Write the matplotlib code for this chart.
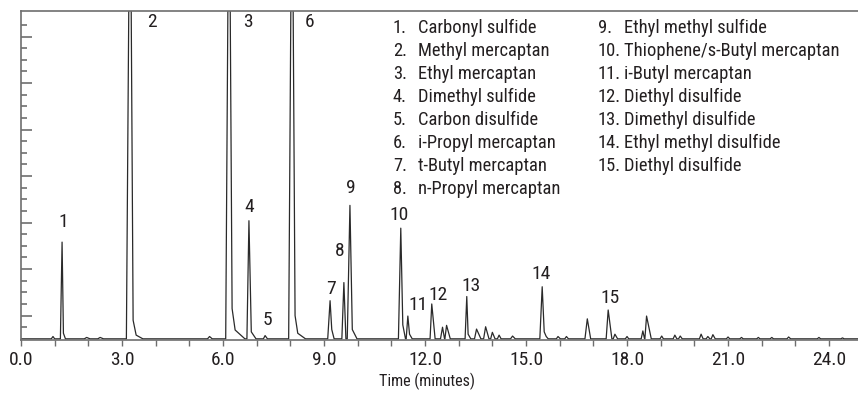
import numpy as np
import matplotlib
matplotlib.use("Agg")
import matplotlib.pyplot as plt
from matplotlib.ticker import MultipleLocator, FormatStrFormatter

# peaks (time in min, height in arbitrary units)
peak_rt = [0.95, 1.22, 1.95, 2.35, 3.24, 5.60, 6.18, 6.77, 7.25, 8.05,
           9.18, 9.59, 9.77, 11.28, 11.49, 12.20, 12.52, 12.64, 13.24, 13.53,
           13.80, 14.00, 14.20, 14.60, 15.48, 15.95, 16.20, 16.82, 17.44, 17.64,
           18.00, 18.47, 18.58, 19.03, 19.42, 19.58, 20.20, 20.40, 20.55, 21.00,
           21.40, 21.90, 22.30, 22.80, 23.70, 24.40]
peak_height = [0.5, 20.8, 0.3, 0.3, 110, 0.5, 110, 25.4, 0.7, 110,
               8.2, 12.1, 28.7, 23.8, 4.9, 7.5, 2.5, 2.9, 9.1, 2.1,
               2.6, 1.4, 0.8, 0.6, 11.2, 0.5, 0.5, 4.3, 6.2, 1.0,
               0.5, 1.7, 4.9, 0.6, 0.8, 0.6, 1.0, 0.5, 0.9, 0.4,
               0.3, 0.3, 0.3, 0.4, 0.3, 0.2]
peak_start = [0.90, 1.17, 1.88, 2.28, 3.13, 5.54, 6.08, 6.71, 7.20, 7.95,
              9.11, 9.53, 9.69, 11.21, 11.44, 12.15, 12.46, 12.59, 13.19, 13.47,
              13.74, 13.95, 14.15, 14.54, 15.41, 15.90, 16.15, 16.75, 17.38, 17.59,
              17.95, 18.42, 18.53, 18.98, 19.37, 19.53, 20.15, 20.35, 20.50, 20.95,
              21.35, 21.85, 22.25, 22.75, 23.65, 24.35]
peak_end = [1.00, 1.32, 2.05, 2.45, 3.62, 5.68, 6.65, 6.98, 7.32, 8.45,
            9.30, 9.65, 9.98, 11.42, 11.62, 12.30, 12.58, 12.75, 13.36, 13.66,
            13.90, 14.08, 14.26, 14.68, 15.66, 16.02, 16.26, 16.92, 17.55, 17.72,
            18.05, 18.52, 18.72, 19.08, 19.48, 19.64, 20.26, 20.46, 20.62, 21.05,
            21.45, 21.95, 22.35, 22.86, 23.75, 24.45]
# tail points after the apex (nan = no tail)
nan = np.nan
peak_tail_t = [nan, 1.26, nan, nan, 3.33, nan, 6.27, 6.84, nan, 8.14,
               9.23, nan, 9.84, 11.34, 11.54, nan, nan, nan, 13.28, nan,
               nan, nan, nan, nan, 15.54, nan, nan, nan, nan, nan,
               nan, nan, nan, nan, nan, nan, nan, nan, nan, nan,
               nan, nan, nan, nan, nan, nan]
peak_tail_h = [0, 1.2, 0, 0, 4.0, 0, 6.5, 1.5, 0, 5.0,
               2.0, 0, 2.0, 3.0, 1.0, 0, 0, 0, 1.0, 0,
               0, 0, 0, 0, 1.5, 0, 0, 0, 0, 0,
               0, 0, 0, 0, 0, 0, 0, 0, 0, 0,
               0, 0, 0, 0, 0, 0]
peak_tail2_t = [nan, nan, nan, nan, 3.42, nan, 6.36, nan, nan, 8.22,
                nan, nan, nan, nan, nan, nan, nan, nan, nan, nan,
                nan, nan, nan, nan, 15.60, nan, nan, nan, nan, nan,
                nan, nan, nan, nan, nan, nan, nan, nan, nan, nan,
                nan, nan, nan, nan, nan, nan]
peak_tail2_h = [0, 0, 0, 0, 0.8, 0, 1.9, 0, 0, 1.2,
                0, 0, 0, 0, 0, 0, 0, 0, 0, 0,
                0, 0, 0, 0, 0.5, 0, 0, 0, 0, 0,
                0, 0, 0, 0, 0, 0, 0, 0, 0, 0,
                0, 0, 0, 0, 0, 0]

peak_numbers = ["1", "2", "3", "4", "5", "6", "7", "8", "9", "10",
                "11", "12", "13", "14", "15"]
compounds = ["Carbonyl sulfide", "Methyl mercaptan", "Ethyl mercaptan",
             "Dimethyl sulfide", "Carbon disulfide", "i-Propyl mercaptan",
             "t-Butyl mercaptan", "n-Propyl mercaptan", "Ethyl methyl sulfide",
             "Thiophene/s-Butyl mercaptan", "i-Butyl mercaptan",
             "Diethyl disulfide", "Dimethyl disulfide", "Ethyl methyl disulfide",
             "Diethyl disulfide"]

x_max = 24.86

# build the trace from the peak vertices
trace_t = [0.0]
trace_y = [0.0]
for i in range(len(peak_rt)):
    trace_t += [peak_start[i], peak_rt[i]]
    trace_y += [0.0, peak_height[i]]
    if not np.isnan(peak_tail_t[i]):
        trace_t.append(peak_tail_t[i])
        trace_y.append(peak_tail_h[i])
    if not np.isnan(peak_tail2_t[i]):
        trace_t.append(peak_tail2_t[i])
        trace_y.append(peak_tail2_h[i])
    trace_t.append(peak_end[i])
    trace_y.append(0.0)
trace_t.append(x_max)
trace_y.append(0.0)

plt.rcParams['font.family'] = ['Roboto Condensed', 'DejaVu Sans']
ink = '#231f20'
frame = '#6e6e6e'

fig = plt.figure(figsize=(8.58, 3.95), dpi=100)
ax = fig.add_axes([21 / 858, 1 - 340 / 395, 1 - 21 / 858, 329 / 395])
ax.plot(trace_t, trace_y, color='#2a2a2a', lw=0.9)

ax.set_xlim(0, x_max)
ax.set_ylim(-0.25, 70.5)

for side in ['left', 'top', 'bottom']:
    ax.spines[side].set_color(frame)
    ax.spines[side].set_linewidth(1.2)
ax.spines['right'].set_visible(False)

ax.xaxis.set_major_locator(MultipleLocator(3))
ax.xaxis.set_minor_locator(MultipleLocator(1))
ax.xaxis.set_major_formatter(FormatStrFormatter('%.1f'))
ax.tick_params(axis='x', which='both', direction='out', color=frame,
               length=4, width=1, labelsize=14, labelcolor=ink, pad=4)
ax.set_yticks(np.arange(5, 70, 10))
ax.set_yticks(np.arange(2.5, 70, 2.5), minor=True)
ax.tick_params(axis='y', which='major', direction='in', length=8, width=1.2,
               color=frame, labelleft=False)
ax.tick_params(axis='y', which='minor', direction='in', length=4, width=1.2,
               color=frame)

ax.set_xlabel('Time (minutes)', fontsize=11.5, color=ink)
ax.xaxis.set_label_coords((427 - 21) / 837, -33 / 329)

# peak number labels
label_t = [1.25, 3.89, 6.74, 6.77, 7.31, 8.58, 9.21, 9.48, 9.80, 11.23,
           11.79, 12.39, 13.37, 15.44, 17.49]
label_y = [25.2, 68.2, 68.2, 28.4, 4.1, 68.2, 10.8, 18.9, 32.5, 26.7,
           7.3, 9.5, 11.4, 13.9, 8.8]
for n, t, y in zip(peak_numbers, label_t, label_y):
    ax.text(t, y, n, fontsize=14, color=ink, ha='center', va='center')

# compound list in two columns
for i, (n, name) in enumerate(zip(peak_numbers, compounds)):
    col, row = divmod(i, 8)
    yv = (339 - (28 + 23 * row)) / 4.65
    num_x = 393 if col == 0 else 598
    name_x = 418 if col == 0 else 624
    ax.text((num_x - 21) / 33.67, yv, n + '.', fontsize=13.3, color=ink, va='center')
    ax.text((name_x - 21) / 33.67, yv, name, fontsize=13.3, color=ink, va='center')

fig.savefig('out.png', dpi=100)
